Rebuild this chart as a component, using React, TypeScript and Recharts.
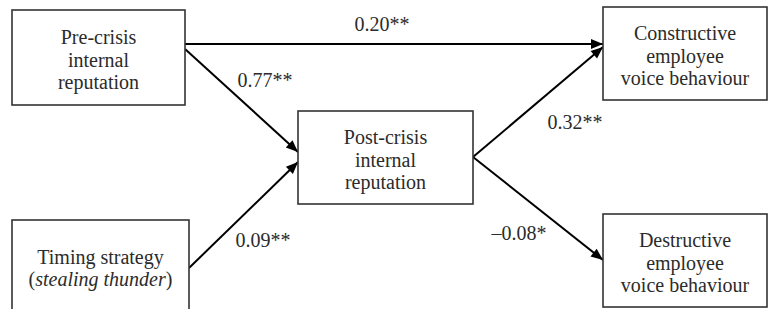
import { ScatterChart, Scatter, XAxis, YAxis } from 'recharts'

// ---- data ----
const nodeIds = ['pre', 'timing', 'post', 'constructive', 'destructive']
const nodeLabels = [
  ['Pre-crisis', 'internal', 'reputation'],
  ['Timing strategy', '(_stealing thunder_)'],
  ['Post-crisis', 'internal', 'reputation'],
  ['Constructive', 'employee', 'voice behaviour'],
  ['Destructive', 'employee', 'voice behaviour'],
]

const pathFrom = ['pre', 'pre', 'timing', 'post', 'post']
const pathTo = ['constructive', 'post', 'post', 'constructive', 'destructive']
const pathCoef = ['0.20**', '0.77**', '0.09**', '0.32**', '\u20130.08*']

// ---- layout (diagram units = pixels) ----
const BOX: Record<string, { cx: number; cy: number; w: number; h: number }> = {
  pre: { cx: 98.5, cy: 57.5, w: 173, h: 95 },
  timing: { cx: 100.5, cy: 266, w: 177, h: 92 },
  post: { cx: 385.5, cy: 157.5, w: 175, h: 93 },
  constructive: { cx: 685, cy: 53.5, w: 164, h: 93 },
  destructive: { cx: 685, cy: 260.5, w: 164, h: 93 },
}

// start / end points of each path arrow, and where its coefficient sits
const ARROW_PTS = [
  [185, 44, 603, 44],
  [185, 49, 298, 152],
  [189, 268, 298, 162],
  [473, 157, 603, 47],
  [473, 157, 603, 260],
]
const COEF_POS = [
  [382, 24],
  [265, 80],
  [263, 240],
  [575, 122],
  [519, 233],
]

const W = 769
const H = 309
const FONT = '"Liberation Serif", "Times New Roman", serif'
const TEXT = '#2b2b2b'
const LINE_H = 22.5

const nodeData = nodeIds.map((id, i) => ({
  id,
  x: BOX[id].cx,
  y: BOX[id].cy,
  lines: nodeLabels[i],
}))

const arrowData = pathFrom.map((from, i) => {
  const [x1, y1, x2, y2] = ARROW_PTS[i]
  const angle = Math.atan2(y2 - y1, x2 - x1)
  return [
    { x: x1, y: y1, end: false, angle, from, to: pathTo[i] },
    { x: x2, y: y2, end: true, angle, from, to: pathTo[i] },
  ]
})

const coefData = pathCoef.map((label, i) => ({ x: COEF_POS[i][0], y: COEF_POS[i][1], label }))

// "_text_" marks italic parts
function renderLine(line: string) {
  return line.split('_').map((seg, k) => (
    <tspan key={k} fontStyle={k % 2 === 1 ? 'italic' : 'normal'}>{seg}</tspan>
  ))
}

function NodeShape(props: any) {
  const { cx, cy, payload } = props
  const b = BOX[payload.id]
  const n = payload.lines.length
  return (
    <g>
      <rect
        x={cx - b.w / 2}
        y={cy - b.h / 2}
        width={b.w}
        height={b.h}
        fill="#fff"
        stroke="#333"
        strokeWidth={1.6}
      />
      {payload.lines.map((ln: string, i: number) => (
        <text
          key={i}
          x={cx}
          y={cy + 2 + (i - (n - 1) / 2) * LINE_H}
          textAnchor="middle"
          dominantBaseline="central"
          fontFamily={FONT}
          fontSize={20}
          fill={TEXT}
        >
          {renderLine(ln)}
        </text>
      ))}
    </g>
  )
}

function ArrowHead(props: any) {
  const { cx, cy, payload } = props
  if (!payload.end) return <g />
  const len = 12
  const half = 5
  const a = payload.angle
  const bx = cx - len * Math.cos(a)
  const by = cy - len * Math.sin(a)
  const px = -Math.sin(a) * half
  const py = Math.cos(a) * half
  return (
    <polygon
      points={`${cx},${cy} ${bx + px},${by + py} ${bx - px},${by - py}`}
      fill="#000"
    />
  )
}

function CoefShape(props: any) {
  const { cx, cy, payload } = props
  return (
    <text
      x={cx}
      y={cy}
      textAnchor="middle"
      dominantBaseline="central"
      fontFamily={FONT}
      fontSize={20}
      fill={TEXT}
    >
      {payload.label}
    </text>
  )
}

export default function App() {
  return (
    <div style={{ position: 'absolute', left: 0, top: 0, width: W, height: H, background: '#fff' }}>
      <ScatterChart width={W} height={H} margin={{ top: 0, right: 0, bottom: 0, left: 0 }}>
        <XAxis type="number" dataKey="x" domain={[0, W]} hide />
        <YAxis type="number" dataKey="y" domain={[0, H]} reversed hide />
        {arrowData.map((d, i) => (
          <Scatter
            key={`arrow-${i}`}
            data={d}
            line={{ stroke: '#000', strokeWidth: 2 }}
            shape={ArrowHead}
            isAnimationActive={false}
          />
        ))}
        <Scatter data={nodeData} shape={NodeShape} isAnimationActive={false} />
        <Scatter data={coefData} shape={CoefShape} isAnimationActive={false} />
      </ScatterChart>
    </div>
  )
}
